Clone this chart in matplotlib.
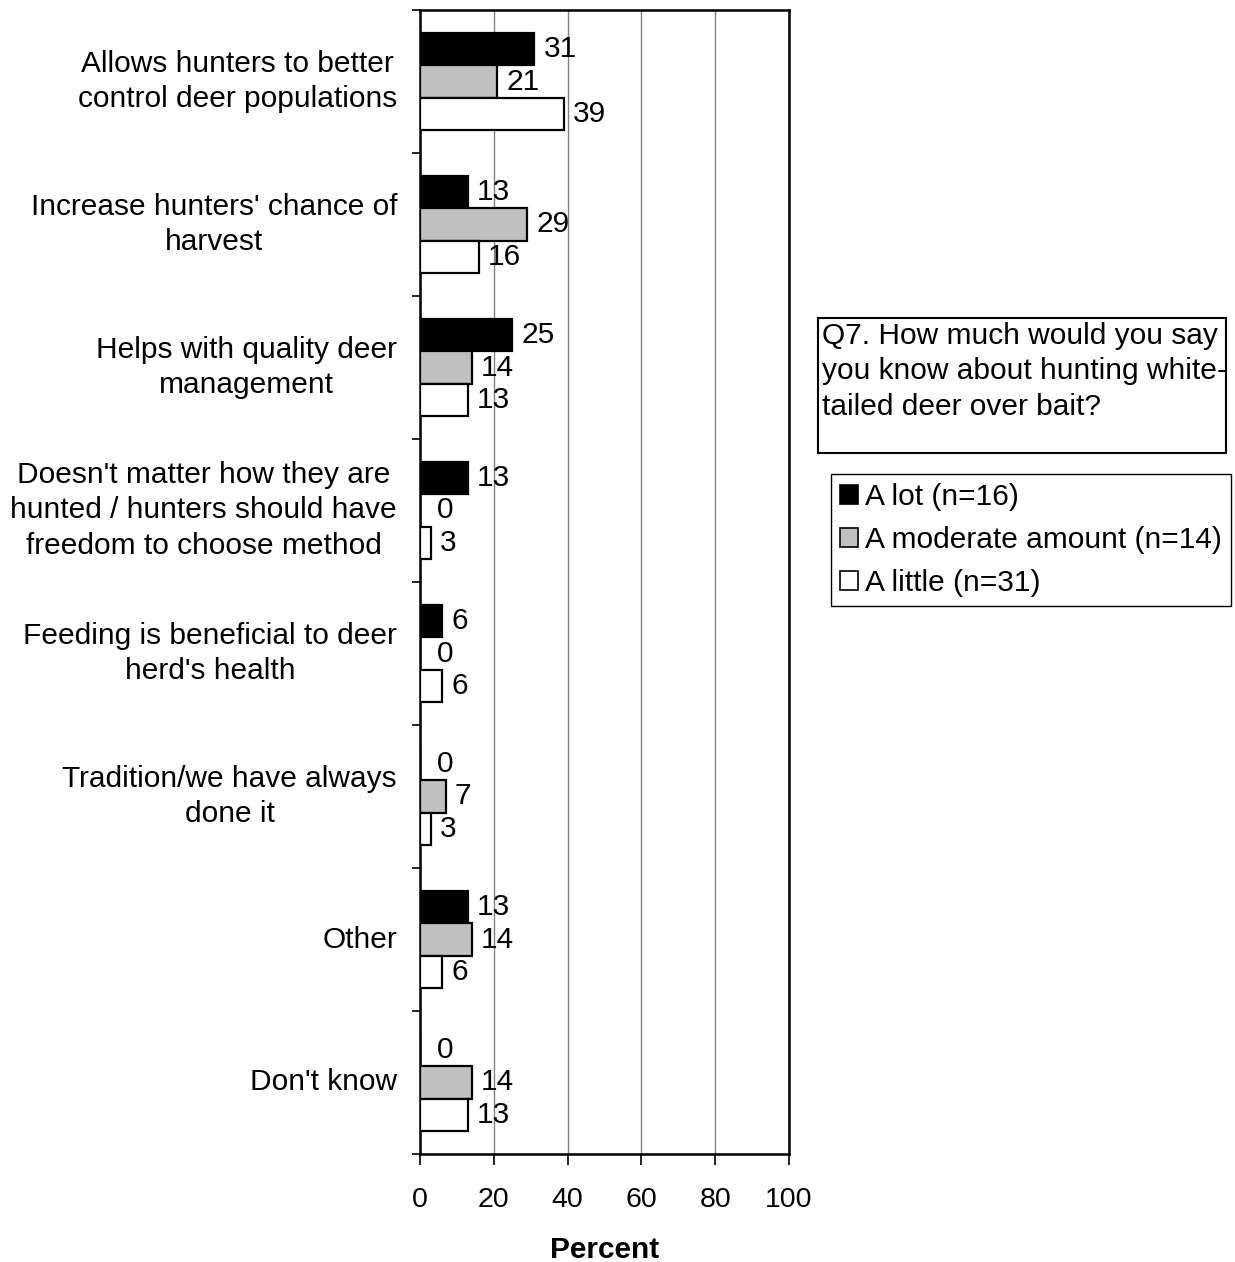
import matplotlib
matplotlib.use("Agg")
import matplotlib.pyplot as plt
from matplotlib.patches import Rectangle, Patch
import numpy as np

plt.rcParams['font.family'] = ['Liberation Sans', 'DejaVu Sans']

categories = [
    "Allows hunters to better\ncontrol deer populations",
    "Increase hunters' chance of\nharvest",
    "Helps with quality deer\nmanagement",
    "Doesn't matter how they are\nhunted / hunters should have\nfreedom to choose method",
    "Feeding is beneficial to deer\nherd's health",
    "Tradition/we have always\ndone it",
    "Other",
    "Don't know",
]
series_names = ["A lot (n=16)", "A moderate amount (n=14)", "A little (n=31)"]
a_lot = [31, 13, 25, 13, 6, 0, 13, 0]
moderate = [21, 29, 14, 0, 0, 7, 14, 14]
little = [39, 16, 13, 3, 6, 3, 6, 13]
xticks = [0, 20, 40, 60, 80, 100]
title_text = "Q7. How much would you say\nyou know about hunting white-\ntailed deer over bait?"

FS = 21.5
W, H = 1235, 1262
fig = plt.figure(figsize=(W / 100, H / 100), dpi=100)
ax = fig.add_axes([420 / W, 1 - 1154 / H, (789 - 420) / W, (1154 - 10) / H])

colors = ["#000000", "#C0C0C0", "#FFFFFF"]
bh = 0.224
y = np.arange(len(categories))
for k, (vals, col) in enumerate(zip([a_lot, moderate, little], colors)):
    pos = y + (k - 1) * bh
    ax.barh(pos, vals, height=bh, color=col, edgecolor="black", linewidth=1.6, zorder=3)
    for p, v in zip(pos, vals):
        off = 12.5 if v == 0 else 6.5
        ax.annotate(str(v), (v, p), xytext=(off, 0), textcoords="offset points",
                    ha="left", va="center", fontsize=FS, zorder=4)

ax.set_xlim(0, 100)
ax.set_ylim(len(categories) - 0.5, -0.5)
ax.set_xticks(xticks)
ax.set_xticklabels([str(t) for t in xticks], fontsize=20.5)
ax.set_yticks(np.arange(len(categories) + 1) - 0.5)
ax.set_yticklabels([])
ax.tick_params(axis="y", length=6, width=1.2, direction="out")
ax.tick_params(axis="x", length=8, width=1.2, direction="out", pad=16)
for i, c in enumerate(categories):
    ax.text(-6.2, i, c, ha="right", va="center", fontsize=FS, linespacing=1.33,
            multialignment="center")
ax.xaxis.grid(True, color="#808080", linewidth=1.0, zorder=0)
for s in ax.spines.values():
    s.set_linewidth(1.8)
ax.set_xlabel("Percent", fontsize=FS, fontweight="bold", labelpad=16)

# title box
fig.patches.append(Rectangle((818 / W, 1 - 453 / H), (1226 - 818) / W, (453 - 318) / H,
                             transform=fig.transFigure, fill=False, edgecolor="black", linewidth=1.5))
fig.text(822 / W, 1 - 322 / H, title_text, ha="left", va="top", fontsize=FS, linespacing=1.33)

handles = [Patch(facecolor=c, edgecolor="black", linewidth=1.2) for c in colors]
leg = fig.legend(handles, series_names, loc="upper left",
                 bbox_to_anchor=(831 / W, 1 - 474 / H), fontsize=FS, frameon=True,
                 fancybox=False, edgecolor="black", framealpha=1, borderpad=0.3,
                 handlelength=0.6, handleheight=0.6, handletextpad=0.25,
                 labelspacing=0.5, borderaxespad=0)
leg.get_frame().set_linewidth(1.0)

fig.savefig("out.png", dpi=100)
